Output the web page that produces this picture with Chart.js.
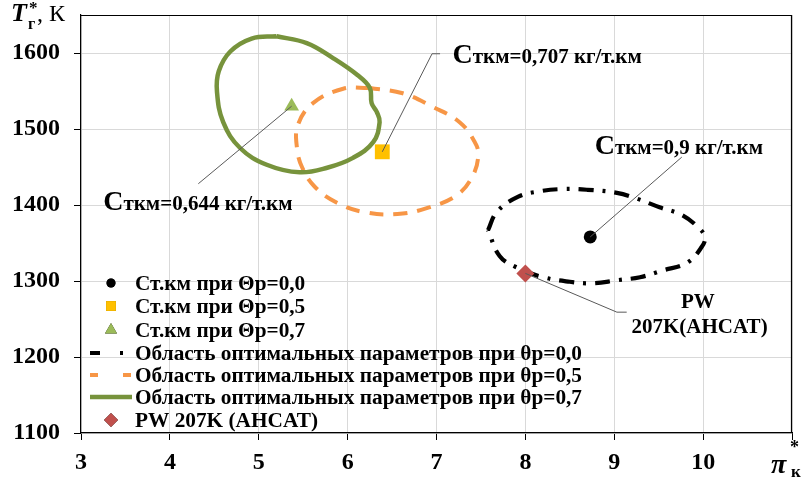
<!DOCTYPE html>
<html><head><meta charset="utf-8">
<script src="https://cdn.jsdelivr.net/npm/chart.js@4"></script>
<style>html,body{margin:0;padding:0;background:#fff}</style>
</head><body>
<canvas id="c" width="806" height="484"></canvas>
<script>
const FONT = '"Liberation Serif", "Times New Roman", serif';

// axis ranges / ticks
const xRange = [3, 11];
const yRange = [1100, 1650];
const yTickLimit = 1600;

// Optimal region contours
const zone00X = [7.58, 7.68, 7.92, 8.16, 8.42, 8.70, 9.03, 9.24, 9.51, 9.76, 9.94, 10.02, 9.985, 9.82, 9.55, 9.29, 9.03, 8.76, 8.50, 8.20, 7.90, 7.71, 7.58];
const zone00Y = [1367, 1391, 1411, 1418, 1421, 1420, 1416, 1409, 1397, 1387, 1371, 1358, 1345, 1324, 1314, 1305, 1301, 1297, 1299, 1305, 1318, 1333, 1367];

const zone05X = [6.25, 5.95, 5.61, 5.44, 5.43, 5.49, 5.63, 5.88, 6.17, 6.56, 6.89, 7.23, 7.41, 7.47, 7.43, 7.26, 6.96, 6.62, 6.25];
const zone05Y = [1554, 1553, 1534, 1505, 1475, 1449, 1424, 1403, 1391, 1388, 1396, 1413, 1439, 1466, 1483, 1509, 1529, 1547, 1554];

const zone07X = [5.20, 4.92, 4.68, 4.55, 4.53, 4.60, 4.79, 5.09, 5.46, 5.77, 6.06, 6.29, 6.36, 6.33, 6.27, 6.25, 6.11, 5.84, 5.54, 5.20];
const zone07Y = [1622, 1619, 1602, 1576, 1549, 1509, 1475, 1453, 1443, 1449, 1462, 1483, 1509, 1522, 1534, 1554, 1571, 1593, 1613, 1622];

// optimum points
const optX = [8.73, 6.39, 5.37];
const optY = [1358, 1470, 1530];
const optCost = ['0,9', '0,707', '0,644'];

// engine PW 207K
const engX = [8.0];
const engY = [1310];

const seriesLabels = [
  'Ст.км при Θр=0,0',
  'Ст.км при Θр=0,5',
  'Ст.км при Θр=0,7',
  'Область оптимальных параметров при θр=0,0',
  'Область оптимальных параметров при θр=0,5',
  'Область оптимальных параметров при θр=0,7',
  'PW 207K (AHCAT)'
];

const toPts = (xs, ys) => xs.map((x, i) => ({x, y: ys[i]}));

const datasets = [
  {label: seriesLabels[0], data: toPts([optX[0]], [optY[0]]), pointStyle: 'circle', pointRadius: 6.5, backgroundColor: '#000', borderColor: '#000', borderWidth: 0, showLine: false, order: 0},
  {label: seriesLabels[1], data: toPts([optX[1]], [optY[1]]), pointStyle: 'rect', pointRadius: 10.5, backgroundColor: '#FFC000', borderColor: '#FFC000', borderWidth: 0, showLine: false, order: 0},
  {label: seriesLabels[2], data: toPts([optX[2]], [optY[2]]), pointStyle: 'triangle', pointRadius: 8.5, backgroundColor: '#9BBB59', borderColor: '#9BBB59', borderWidth: 0, showLine: false, order: 0},
  {label: seriesLabels[3], data: toPts(zone00X, zone00Y), showLine: true, pointRadius: 0, borderColor: '#000', borderWidth: 4.2, borderDash: [15, 9, 3, 9], legendDash: [10, 20, 3, 20], tension: 0.4, order: 2},
  {label: seriesLabels[4], data: toPts(zone05X, zone05Y), showLine: true, pointRadius: 0, borderColor: '#F79646', borderWidth: 4, borderDash: [14, 10], legendDash: [8, 25], tension: 0.4, order: 2},
  {label: seriesLabels[5], data: toPts(zone07X, zone07Y), showLine: true, pointRadius: 0, borderColor: '#77933C', borderWidth: 4.5, tension: 0.4, order: 1},
  {label: seriesLabels[6], data: toPts(engX, engY), pointStyle: 'rectRot', pointRadius: 9, backgroundColor: '#C0504D', borderColor: '#C0504D', borderWidth: 0, showLine: false, order: 0}
];

// annotation placement (data units)
const notes = [
  {pt: 0, elbow: [9.76, 1463], end: null, text: [8.78, 1467]},
  {pt: 1, elbow: [6.95, 1599], end: [7.04, 1599], text: [7.18, 1587]},
  {pt: 2, elbow: [4.32, 1428], end: null, text: [3.25, 1393]}
];

const overlay = {
  id: 'overlay',
  afterDatasetsDraw(chart) {
    const ctx = chart.ctx, xs = chart.scales.x, ys = chart.scales.y, a = chart.chartArea;
    const X = v => xs.getPixelForValue(v), Y = v => ys.getPixelForValue(v);
    ctx.save();
    // frame top/right
    ctx.strokeStyle = '#000'; ctx.lineWidth = 1.2;
    ctx.beginPath(); ctx.moveTo(a.left, a.top + 0.5); ctx.lineTo(a.right - 0.5, a.top + 0.5); ctx.lineTo(a.right - 0.5, a.bottom); ctx.stroke();

    // leader lines
    ctx.strokeStyle = '#595959'; ctx.lineWidth = 1;
    notes.forEach(n => {
      ctx.beginPath();
      ctx.moveTo(X(optX[n.pt]), Y(optY[n.pt]));
      ctx.lineTo(X(n.elbow[0]), Y(n.elbow[1]));
      if (n.end) ctx.lineTo(X(n.end[0]), Y(n.end[1]));
      ctx.stroke();
    });
    ctx.beginPath();
    ctx.moveTo(X(engX[0]), Y(engY[0]));
    ctx.lineTo(X(9.03), Y(1259)); ctx.lineTo(X(9.14), Y(1259));
    ctx.stroke();

    // annotation texts
    ctx.fillStyle = '#000'; ctx.textBaseline = 'alphabetic'; ctx.textAlign = 'left';
    notes.forEach(n => {
      let x = X(n.text[0]); const y = Y(n.text[1]);
      ctx.font = `bold 28px ${FONT}`;
      ctx.fillText('С', x, y);
      x += ctx.measureText('С').width;
      ctx.font = `bold 21px ${FONT}`;
      ctx.fillText('ткм=' + optCost[n.pt] + ' кг/т.км', x, y);
    });
    ctx.textAlign = 'center'; ctx.font = `bold 21px ${FONT}`;
    ctx.fillText('PW', X(9.94), Y(1264));
    ctx.fillText('207K(AHCAT)', X(9.96), Y(1232));

    // legend
    const rows = [283, 306, 330, 353, 375, 397, 420];
    ctx.textAlign = 'left'; ctx.textBaseline = 'middle';
    chart.data.datasets.forEach((ds, i) => {
      const y = rows[i];
      ctx.fillStyle = '#000'; ctx.font = `bold 21.3px ${FONT}`;
      ctx.fillText(ds.label, 135, y + 1);
      if (ds.showLine) {
        ctx.save();
        ctx.strokeStyle = ds.borderColor; ctx.lineWidth = ds.borderWidth;
        ctx.setLineDash(ds.legendDash || []);
        ctx.beginPath(); ctx.moveTo(90, y); ctx.lineTo(132, y); ctx.stroke();
        ctx.restore();
      } else {
        Chart.helpers.drawPoint(ctx, {pointStyle: ds.pointStyle, radius: ds.pointStyle === 'circle' ? 4.5 : 7, borderWidth: 0}, 111, y);
        ctx.fillStyle = ds.backgroundColor; ctx.fill();
      }
    });

    // axis titles
    ctx.fillStyle = '#000'; ctx.textBaseline = 'alphabetic'; ctx.textAlign = 'left';
    ctx.font = `italic bold 26px ${FONT}`; ctx.fillText('T', 11, 21);
    ctx.font = `bold 17px ${FONT}`; ctx.fillText('*', 29, 13);
    ctx.font = `bold 16px ${FONT}`; ctx.fillText('г', 28, 29);
    ctx.font = `24px ${FONT}`; ctx.fillText(', К', 37, 21);

    ctx.font = `italic bold 28px ${FONT}`; ctx.fillText('π', 771, 473);
    ctx.font = `bold 18px ${FONT}`; ctx.fillText('*', 790, 453);
    ctx.font = `bold 17px ${FONT}`; ctx.fillText('к', 791, 477);
    ctx.restore();
  }
};

new Chart(document.getElementById('c'), {
  type: 'scatter',
  data: {datasets},
  options: {
    responsive: false,
    animation: false,
    devicePixelRatio: 1,
    layout: {padding: {top: 15, right: 14, left: 0, bottom: 0}},
    plugins: {legend: {display: false}, tooltip: {enabled: false}},
    elements: {line: {borderCapStyle: 'butt'}},
    scales: {
      x: {
        type: 'linear', min: xRange[0], max: xRange[1],
        afterFit: s => { s.height = 51; s.paddingLeft = 0; s.paddingRight = 0; },
        ticks: {stepSize: 1, color: '#000', padding: 8, font: {family: FONT, size: 24, weight: 'bold'}, callback: v => v === xRange[1] ? '' : String(v)},
        grid: {color: '#d9d9d9', lineWidth: 1, tickColor: '#000', tickLength: 7},
        border: {color: '#000', width: 1.2}
      },
      y: {
        type: 'linear', min: yRange[0], max: yRange[1],
        afterFit: s => { s.width = 81; s.paddingTop = 0; s.paddingBottom = 0; },
        afterBuildTicks: s => { s.ticks = s.ticks.filter(t => t.value <= yTickLimit); },
        ticks: {stepSize: 100, color: '#000', padding: 14, font: {family: FONT, size: 24, weight: 'bold'}, callback: v => String(v)},
        grid: {color: '#d9d9d9', lineWidth: 1, tickColor: '#000', tickLength: 7},
        border: {color: '#000', width: 1.2}
      }
    }
  },
  plugins: [overlay]
});
</script>
</body></html>
